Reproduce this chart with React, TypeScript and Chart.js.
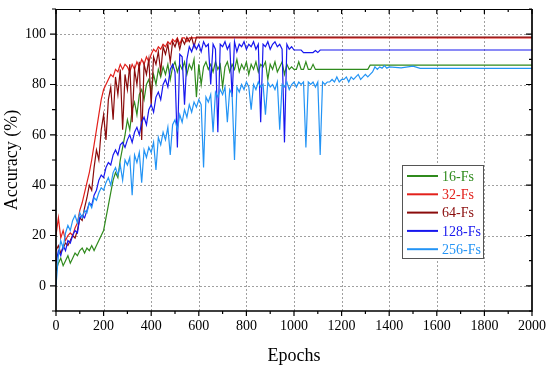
import React, { useEffect, useRef } from 'react';
import { Chart, registerables } from 'chart.js';

Chart.register(...registerables);

// Sampled epochs (every 10 epochs) for the noisy part of each curve
const EPOCHS = [
  0, 10, 20, 30, 40, 50, 60, 70, 80, 90,
  100, 110, 120, 130, 140, 150, 160, 170, 180, 190,
  200, 210, 220, 230, 240, 250, 260, 270, 280, 290,
  300, 310, 320, 330, 340, 350, 360, 370, 380, 390,
  400, 410, 420, 430, 440, 450, 460, 470, 480, 490,
  500, 510, 520, 530, 540, 550, 560, 570, 580, 590,
  600, 610, 620, 630, 640, 650, 660, 670, 680, 690,
  700, 710, 720, 730, 740, 750, 760, 770, 780, 790,
  800, 810, 820, 830, 840, 850, 860, 870, 880, 890,
  900, 910, 920, 930, 940, 950, 960, 970, 980, 990,
  1000, 1010, 1020, 1030, 1040, 1050, 1060, 1070, 1080, 1090,
  1100, 1110, 1120, 1130, 1140, 1150, 1160, 1170, 1180, 1190,
  1200, 1210, 1220, 1230, 1240, 1250, 1260, 1270, 1280, 1290,
  1300, 1310, 1320, 1330, 1340, 1350, 1360, 1370, 1380, 1390,
  1400,
];

const ACC_16 = [
  6, 9, 11, 8, 10, 12, 9, 11, 13, 12,
  14, 15, 13, 15, 14, 16, 14, 16, 18, 20,
  22, 27, 32, 37, 42, 45, 43, 50, 55, 60,
  66, 62, 70, 73, 68, 76, 78, 74, 80, 82,
  77, 84, 80, 86, 83, 87, 84, 88, 82, 87,
  89, 85, 88, 86, 89, 84, 88, 86, 90, 75,
  88, 80, 87, 89, 86, 88, 85, 89, 86, 88,
  79, 87, 89, 85, 88, 86, 90, 85, 88, 86,
  89, 84, 88, 86, 89, 85, 88, 87, 89, 82,
  88, 86, 89, 85, 87, 89, 84, 88, 86, 87,
  86, 86, 89, 86, 86, 89, 86, 86, 88, 86,
];
const TAIL_EPOCHS_16 = [1310, 1320, 2000];
const TAIL_ACC_16 = [86, 87.7, 87.7];

const ACC_32 = [
  20, 27, 19, 22, 18, 20, 21, 20, 23, 25,
  30, 33, 37, 41, 45, 50, 56, 62, 68, 74,
  78, 80, 82, 84, 83, 86, 85, 88, 86, 88,
  87, 85, 88, 86, 89, 87, 90, 88, 91, 89,
  92, 94, 93, 95, 94, 96, 95, 97, 96, 98,
  97, 98.5, 96, 98.5, 98.5, 97, 98.5, 98.5, 98.5,
];
const TAIL_EPOCHS_32 = [2000];
const TAIL_ACC_32 = [98.5];

const ACC_64 = [
  14, 16, 13, 15, 17, 16, 18, 20, 19, 22,
  27, 26, 31, 35, 40, 38, 47, 54, 50, 62,
  68, 58, 74, 79, 66, 83, 76, 86, 62, 84,
  78, 88, 65, 86, 80, 89, 58, 88, 84, 90,
  72, 91, 88, 93, 85, 95, 92, 96, 89, 97,
  95, 98, 94, 98, 96, 98.8, 97, 98.8, 95, 98.8,
  98.8,
];
const TAIL_EPOCHS_64 = [2000];
const TAIL_ACC_64 = [98.8];

const ACC_128 = [
  9, 14, 12, 16, 14, 18, 17, 20, 22, 21,
  27, 28, 27, 30, 33, 32, 36, 38, 42, 44,
  43, 47, 49, 48, 52, 54, 52, 56, 57, 55,
  58, 60, 57, 61, 63, 60, 65, 67, 64, 70,
  72, 69, 75, 77, 74, 80, 82, 79, 86, 88,
  85, 55, 92, 91, 72, 90, 95, 93, 96, 94,
  96, 93, 97, 95, 96, 80, 96, 94, 61, 96,
  95, 97, 94, 96, 75, 97, 93, 96, 95, 97,
  94, 96, 95, 97, 94, 96, 65, 96, 95, 97,
  94, 96, 97, 95, 96, 94, 57, 96, 94, 95,
  93.7, 93.7, 93.7, 93.7, 92.7, 92.7, 92.7, 92.7, 92.7, 93.5,
  92.7, 93.7,
];
const TAIL_EPOCHS_128 = [2000];
const TAIL_ACC_128 = [93.7];

const ACC_256 = [
  0, 12, 18, 15, 21, 24, 22, 26, 28, 25,
  29, 27, 30, 29, 33, 31, 35, 34, 37, 39,
  38, 41, 43, 40, 45, 47, 44, 48, 42, 50,
  48, 51, 36, 52, 49, 53, 41, 54, 51, 55,
  53, 57, 46, 59, 56, 61, 58, 63, 52, 64,
  66, 62, 68, 65, 70, 67, 72, 69, 73, 71,
  74, 72, 47, 75, 73, 76, 61, 77, 75, 78,
  76, 79, 65, 78, 76, 50, 79, 77, 80, 78,
  81, 79, 70, 80, 78, 81, 79, 80, 68, 81,
  79, 80, 78, 81, 62, 80, 79, 81, 78, 80,
  81, 79, 81, 80, 81, 55, 81, 80, 81, 79,
  81, 52, 81, 80, 81, 81, 82, 81, 83, 81,
  82, 82, 83, 81, 83, 82, 83, 84, 82, 83,
  84, 83, 84, 85, 87, 86, 87, 86.5, 87.5, 86.5,
  87,
];
const TAIL_EPOCHS_256 = [1450, 1500, 1530, 2000];
const TAIL_ACC_256 = [86.6, 87.3, 86.4, 86.4];

const SERIES_NAMES = ['16-Fs', '32-Fs', '64-Fs', '128-Fs', '256-Fs'];
const SERIES_COLORS = ['#2f8a1c', '#e3201b', '#8a0b0b', '#1717ee', '#2394f5'];

const X_MIN = 0;
const X_MAX = 2000;
const Y_MIN = -10;
const Y_MAX = 110;

const FONT_FAMILY = "'Liberation Serif', 'Times New Roman', serif";

function toPoints(acc: number[], tailE: number[], tailA: number[]) {
  const pts = acc.map((y, i) => ({ x: EPOCHS[i], y }));
  tailE.forEach((x, i) => pts.push({ x, y: tailA[i] }));
  return pts;
}

const framePlugin = {
  id: 'originFrame',
  beforeDatasetsDraw(chart: any) {
    const { ctx, chartArea: a, scales } = chart;
    const xs = scales.x;
    const ys = scales.y;
    ctx.save();
    ctx.strokeStyle = '#a0a0a0';
    ctx.lineWidth = 1;
    ctx.setLineDash([2, 2]);
    xs.ticks.forEach((t: any) => {
      if (t.value % 200 !== 0 || t.value === X_MIN || t.value === X_MAX) return;
      const px = Math.round(xs.getPixelForValue(t.value)) + 0.5;
      ctx.beginPath();
      ctx.moveTo(px, a.top);
      ctx.lineTo(px, a.bottom);
      ctx.stroke();
    });
    ys.ticks.forEach((t: any) => {
      if (t.value % 20 !== 0) return;
      const py = Math.round(ys.getPixelForValue(t.value)) + 0.5;
      ctx.beginPath();
      ctx.moveTo(a.left, py);
      ctx.lineTo(a.right, py);
      ctx.stroke();
    });
    ctx.restore();
  },
  afterDatasetsDraw(chart: any) {
    const { ctx, chartArea: a, scales } = chart;
    const xs = scales.x;
    const ys = scales.y;
    ctx.save();
    ctx.setLineDash([]);
    ctx.strokeStyle = '#000';
    ctx.lineWidth = 1.7;
    ctx.beginPath();
    ctx.moveTo(a.left, a.top);
    ctx.lineTo(a.left, a.bottom);
    ctx.lineTo(a.right, a.bottom);
    ctx.lineTo(a.right, a.top);
    ctx.stroke();
    ctx.lineWidth = 1;
    ctx.beginPath();
    ctx.moveTo(a.left, a.top + 0.5);
    ctx.lineTo(a.right, a.top + 0.5);
    ctx.stroke();

    ctx.lineWidth = 1.2;
    xs.ticks.forEach((t: any) => {
      const major = t.value % 200 === 0;
      const px = xs.getPixelForValue(t.value);
      ctx.beginPath();
      ctx.moveTo(px, a.bottom);
      ctx.lineTo(px, a.bottom + (major ? 5 : 3));
      ctx.moveTo(px, a.top);
      ctx.lineTo(px, a.top + (major ? 5 : 3));
      ctx.stroke();
    });
    ys.ticks.forEach((t: any) => {
      const major = t.value % 20 === 0;
      const py = ys.getPixelForValue(t.value);
      ctx.beginPath();
      ctx.moveTo(a.left, py);
      ctx.lineTo(a.left - (major ? 6 : 4), py);
      ctx.moveTo(a.right, py);
      ctx.lineTo(a.right - (major ? 6 : 3), py);
      ctx.stroke();
    });

    // legend box
    const bx = a.right - 130;
    const by = a.top + 156;
    const bw = 81;
    const bh = 93;
    ctx.fillStyle = '#fff';
    ctx.fillRect(bx, by, bw, bh);
    ctx.strokeStyle = '#555';
    ctx.lineWidth = 1;
    ctx.strokeRect(bx + 0.5, by + 0.5, bw, bh);
    ctx.font = `14px ${FONT_FAMILY}`;
    ctx.textBaseline = 'middle';
    ctx.textAlign = 'left';
    SERIES_NAMES.forEach((name, i) => {
      const ry = by + 11 + i * 18.3;
      ctx.strokeStyle = SERIES_COLORS[i];
      ctx.lineWidth = 2;
      ctx.beginPath();
      ctx.moveTo(bx + 5, ry);
      ctx.lineTo(bx + 36, ry);
      ctx.stroke();
      ctx.fillStyle = SERIES_COLORS[i];
      ctx.fillText(name, bx + 40, ry + 1);
    });
    ctx.restore();
  },
};

export default function App() {
  const canvasRef = useRef<HTMLCanvasElement | null>(null);

  useEffect(() => {
    document.body.style.margin = '0';
    const canvas = canvasRef.current;
    if (!canvas) return;

    const accs = [ACC_16, ACC_32, ACC_64, ACC_128, ACC_256];
    const tailsE = [TAIL_EPOCHS_16, TAIL_EPOCHS_32, TAIL_EPOCHS_64, TAIL_EPOCHS_128, TAIL_EPOCHS_256];
    const tailsA = [TAIL_ACC_16, TAIL_ACC_32, TAIL_ACC_64, TAIL_ACC_128, TAIL_ACC_256];

    const datasets = SERIES_NAMES.map((name, i) => ({
      label: name,
      data: toPoints(accs[i], tailsE[i], tailsA[i]),
      borderColor: SERIES_COLORS[i],
      backgroundColor: SERIES_COLORS[i],
      borderWidth: 1.2,
      pointRadius: 0,
      tension: 0,
      fill: false,
      order: SERIES_NAMES.length - i,
    }));

    const chart = new Chart(canvas, {
      type: 'line',
      data: { datasets },
      options: {
        animation: false,
        responsive: true,
        maintainAspectRatio: false,
        layout: { padding: { left: 0, right: 18, top: 9, bottom: 0 } },
        plugins: {
          legend: { display: false },
          tooltip: { enabled: false },
        },
        scales: {
          x: {
            type: 'linear',
            min: X_MIN,
            max: X_MAX,
            grid: { display: false, drawTicks: false },
            border: { display: false },
            ticks: {
              stepSize: 100,
              autoSkip: false,
              maxRotation: 0,
              padding: 7,
              color: '#000',
              font: { family: FONT_FAMILY, size: 14 },
              callback: (v: any) => (Number(v) % 200 === 0 ? String(v) : ''),
            },
            title: {
              display: true,
              text: 'Epochs',
              color: '#000',
              font: { family: FONT_FAMILY, size: 18 },
              padding: { top: 0, bottom: 5 },
            },
            afterFit: (s: any) => {
              s.height = 61;
              s.paddingLeft = 0;
              s.paddingRight = 0;
            },
          },
          y: {
            type: 'linear',
            min: Y_MIN,
            max: Y_MAX,
            grid: { display: false, drawTicks: false },
            border: { display: false },
            ticks: {
              stepSize: 10,
              autoSkip: false,
              padding: 10,
              color: '#000',
              font: { family: FONT_FAMILY, size: 14 },
              callback: (v: any) => (Number(v) % 20 === 0 ? String(v) : ''),
            },
            title: {
              display: true,
              text: 'Accuracy (%)',
              color: '#000',
              font: { family: FONT_FAMILY, size: 18 },
              padding: { top: 1, bottom: 0 },
            },
            afterFit: (s: any) => {
              s.width = 56;
              s.paddingTop = 0;
              s.paddingBottom = 0;
            },
          },
        },
      },
      plugins: [framePlugin],
    } as any);

    return () => {
      chart.destroy();
    };
  }, []);

  return (
    <div style={{ position: 'fixed', left: 0, top: 0, width: 550, height: 372 }}>
      <canvas ref={canvasRef} />
    </div>
  );
}
